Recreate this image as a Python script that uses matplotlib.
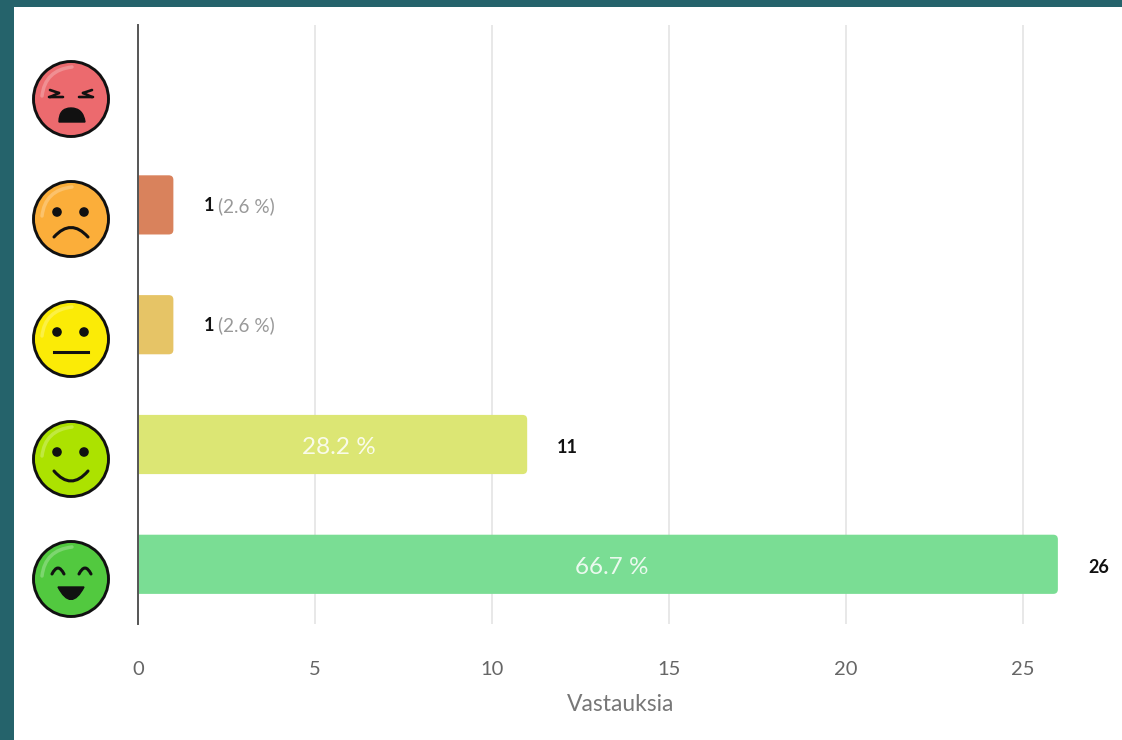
import matplotlib
matplotlib.use('Agg')
import matplotlib.pyplot as plt
from matplotlib.patches import Circle, FancyBboxPatch, PathPatch, Rectangle
from matplotlib.path import Path

W, H = 1122, 740

# Data, top row first
moods = ['angry', 'sad', 'neutral', 'happy', 'very_happy']
answers = [0, 1, 1, 11, 26]
shares = [0, 2.6, 2.6, 28.2, 66.7]
bar_colors = ['#E8706F', '#D9825C', '#E6C466', '#DCE674', '#7ADD94']
face_colors = ['#EC6A6E', '#FBAE3A', '#FBEB06', '#ACE200', '#52C93F']
ticks = [0, 5, 10, 15, 20, 25]
x_label = 'Vastauksia'

plt.rcParams['font.family'] = ['Lato', 'DejaVu Sans']


def curve(ax, p0, ctrl, p1, lw=2.2, color='#111111', alpha=1.0):
    path = Path([p0, ctrl, p1], [Path.MOVETO, Path.CURVE3, Path.CURVE3])
    ax.add_patch(PathPatch(path, fill=False, lw=lw, ec=color, alpha=alpha, capstyle='round'))


def dot_eyes(ax, cx, cy):
    ax.add_patch(Circle((cx - 14, cy), 4.8, fc='#111111', ec='none'))
    ax.add_patch(Circle((cx + 13, cy), 4.8, fc='#111111', ec='none'))


def draw_face(ax, mood, color, cx, cy):
    ax.add_patch(Circle((cx, cy), 37.5, fc=color, ec='#111111', lw=2.1))
    curve(ax, (cx - 29, cy - 3), (cx - 26, cy - 29), (cx + 1, cy - 32), lw=2.5, color='white', alpha=0.25)
    if mood == 'angry':
        for s in (-1, 1):
            curve(ax, (cx + s * 21, cy - 9), (cx + s * 12, cy - 6), (cx + s * 12, cy - 6), lw=1.9)
            curve(ax, (cx + s * 12, cy - 6), (cx + s * 12, cy - 6), (cx + s * 21, cy - 2), lw=1.9)
            curve(ax, (cx + s * 22, cy - 2), (cx + s * 16, cy - 2), (cx + s * 8, cy - 2), lw=1.9)
        mouth = Path([(cx - 12, cy + 23), (cx - 12, cy + 9), (cx, cy + 9), (cx + 12, cy + 9),
                      (cx + 14, cy + 23), (cx - 12, cy + 23)],
                     [Path.MOVETO, Path.CURVE3, Path.CURVE3, Path.CURVE3, Path.CURVE3, Path.CLOSEPOLY])
        ax.add_patch(PathPatch(mouth, fc='#111111', ec='#111111', lw=1))
    elif mood == 'sad':
        dot_eyes(ax, cx, cy - 7)
        curve(ax, (cx - 17, cy + 18), (cx, cy - 1), (cx + 17, cy + 18))
    elif mood == 'neutral':
        dot_eyes(ax, cx, cy - 7)
        ax.plot([cx - 17, cx + 17], [cy + 13, cy + 13], color='#111111', lw=2.2)
    elif mood == 'happy':
        dot_eyes(ax, cx, cy - 7)
        curve(ax, (cx - 17, cy + 12), (cx, cy + 32), (cx + 17, cy + 12))
    else:
        curve(ax, (cx - 19, cy - 5), (cx - 13, cy - 17), (cx - 7, cy - 5))
        curve(ax, (cx + 8, cy - 5), (cx + 14, cy - 17), (cx + 20, cy - 5))
        mouth = Path([(cx - 13, cy + 8), (cx + 13, cy + 8), (cx, cy + 33), (cx - 13, cy + 8), (cx - 13, cy + 8)],
                     [Path.MOVETO, Path.LINETO, Path.CURVE3, Path.CURVE3, Path.CLOSEPOLY])
        ax.add_patch(PathPatch(mouth, fc='#111111', ec='#111111', lw=1))


fig = plt.figure(figsize=(W / 100, H / 100), dpi=100, facecolor='#25636B')

# Backdrop in pixel coordinates: white panel and the smileys
bg = fig.add_axes([0, 0, 1, 1])
bg.set_xlim(0, W)
bg.set_ylim(H, 0)
bg.axis('off')
bg.add_patch(Rectangle((14, 7), W - 14, H - 7, fc='white', ec='none'))

# Chart axes: x=0 at 138 px, 35.38 px per answer, 119.7 px per row
left, top, bottom = 138.0, 25.2, 624.2
ax = fig.add_axes([left / W, 1 - bottom / H, (W - left) / W, (bottom - top) / H])
ax.patch.set_alpha(0)
ax.set_xlim(0, (W - left) / 35.38)
ax.set_ylim(len(moods) - 0.5, -0.5)

for spine in ['top', 'right', 'bottom']:
    ax.spines[spine].set_visible(False)
ax.spines['left'].set_color('#555555')
ax.spines['left'].set_linewidth(1.4)
ax.spines['left'].set_zorder(5)

ax.set_yticks([])
ax.set_xticks(ticks)
ax.tick_params(axis='x', length=0, pad=26.5, labelsize=14.5, labelcolor='#666666')
ax.grid(axis='x', color='#E6E6E6', lw=1.3)
ax.set_axisbelow(True)
ax.set_xlabel(x_label, fontsize=16.5, color='#777777')
ax.xaxis.set_label_coords(0.4906, -0.117)

aspect = (1 / 119.7) / (1 / 35.38)
for i, (mood, n, pct) in enumerate(zip(moods, answers, shares)):
    draw_face(bg, mood, face_colors[i], 71, 99 + i * 120)
    if n == 0:
        continue
    # starts left of the axis so only the right corners show rounded
    ax.add_patch(FancyBboxPatch((-0.3, i - 0.247), n + 0.3, 0.494,
                                boxstyle='round,pad=0,rounding_size=0.13',
                                mutation_aspect=aspect, fc=bar_colors[i], ec='none', zorder=3))
    if pct > 10:
        ax.annotate('%.1f %%' % pct, (n * 0.515, i), xytext=(0, -3), textcoords='offset pixels',
                    color='white', fontsize=17.5, alpha=0.85, ha='center', va='center', zorder=4)
        ax.annotate(str(n), (n, i), xytext=(30, -3), textcoords='offset pixels', fontsize=13,
                    fontweight='bold', color='#111111', va='center')
    else:
        ax.annotate(str(n), (n, i), xytext=(30, -1), textcoords='offset pixels', fontsize=13,
                    fontweight='bold', color='#111111', va='center')
        ax.annotate('(%.1f %%)' % pct, (n, i), xytext=(45, -1), textcoords='offset pixels', fontsize=13.6,
                    color='#999999', va='center')

fig.savefig('out.png', dpi=100, facecolor=fig.get_facecolor())
